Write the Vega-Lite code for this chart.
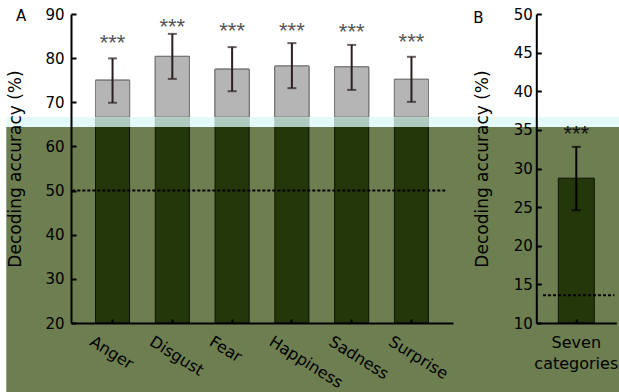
{
  "$schema": "https://vega.github.io/schema/vega-lite/v6.json",
  "padding": 0,
  "autosize": {"type": "pad"},
  "background": "#ffffff",
  "bounds": "flush",
  "spacing": 83.3,
  "config": {
    "view": {"stroke": null},
    "axis": {
      "grid": false,
      "domainColor": "#000000", "domainWidth": 2,
      "tickColor": "#000000", "tickWidth": 2,
      "labelColor": "#000000", "labelFont": "DejaVu Sans",
      "titleFont": "DejaVu Sans", "titleFontWeight": "normal", "titleColor": "#000000"
    }
  },
  "hconcat": [
    {
      "width": 382,
      "height": 309,
      "title": {"text": "A", "anchor": "start", "frame": "group", "dx": -55, "offset": -35.5, "baseline": "alphabetic", "fontSize": 15, "font": "DejaVu Sans", "fontWeight": "normal", "color": "#000000"},
      "layer": [
        {
          "data": {"values": [{}]},
          "mark": {"type": "rect", "clip": false, "fill": "#ffffff"},
          "encoding": {
            "x": {"datum": -0.18508, "type": "quantitative", "scale": {"domain": [0, 1], "nice": false, "zero": false}, "axis": null},
            "x2": {"datum": 1.435},
            "y": {"datum": 92.945, "type": "quantitative", "axis": {"zindex": 1, "values": [20, 30, 40, 50, 60, 70, 80, 90], "title": "Decoding accuracy (%)", "titleFontSize": 17, "titlePadding": 20, "labelFontSize": 15, "labelPadding": 12, "tickSize": -5}},
            "y2": {"datum": 64.401}
          }
        },
        {
          "data": {"values": [{}]},
          "mark": {"type": "rect", "clip": false, "fill": "#6d7e50"},
          "encoding": {
            "x": {"datum": -0.16937, "type": "quantitative", "scale": {"domain": [0, 1], "nice": false, "zero": false}, "axis": null},
            "x2": {"datum": 1.435},
            "y": {"datum": 64.401, "type": "quantitative", "axis": {"zindex": 1, "values": [20, 30, 40, 50, 60, 70, 80, 90], "title": "Decoding accuracy (%)", "titleFontSize": 17, "titlePadding": 20, "labelFontSize": 15, "labelPadding": 12, "tickSize": -5}},
            "y2": {"datum": 4.15}
          }
        },
        {
          "data": {"values": [
            {"emotion": "Anger", "acc": 75.0, "lo": 69.9, "hi": 79.95, "star": 83.7, "sig": "***"},
            {"emotion": "Disgust", "acc": 80.4, "lo": 75.3, "hi": 85.5, "star": 87.5, "sig": "***"},
            {"emotion": "Fear", "acc": 77.5, "lo": 72.5, "hi": 82.5, "star": 86.5, "sig": "***"},
            {"emotion": "Happiness", "acc": 78.2, "lo": 73.2, "hi": 83.4, "star": 86.5, "sig": "***"},
            {"emotion": "Sadness", "acc": 78.0, "lo": 72.8, "hi": 83.0, "star": 86.3, "sig": "***"},
            {"emotion": "Surprise", "acc": 75.2, "lo": 70.1, "hi": 80.3, "star": 83.9, "sig": "***"}
          ]},
          "encoding": {
            "x": {
              "field": "emotion", "type": "nominal", "sort": null,
              "scale": {"paddingInner": 0.43, "paddingOuter": 0.41},
              "axis": {"zindex": 1, "title": null, "labelAngle": 32, "labelAlign": "left", "labelBaseline": "top", "labelOffset": -17, "labelPadding": 14, "tickSize": -4, "labelFontSize": 16}
            }
          },
          "layer": [
            {
              "mark": {"type": "bar", "fill": "#23370b", "stroke": "#0d1405", "strokeWidth": 1},
              "encoding": {
                "y": {"field": "acc", "type": "quantitative", "scale": {"domain": [20, 90], "nice": false, "zero": false},
                  "axis": {"zindex": 1, "values": [20, 30, 40, 50, 60, 70, 80, 90], "title": "Decoding accuracy (%)", "titleFontSize": 17, "titlePadding": 20, "labelFontSize": 15, "labelPadding": 12, "tickSize": -5}},
                "y2": {"datum": 20}
              }
            },
            {
              "mark": {"type": "bar", "fill": "#b5b5b5", "stroke": "#7d7d7d", "strokeWidth": 1},
              "encoding": {
                "y": {"field": "acc", "type": "quantitative", "axis": {"zindex": 1, "values": [20, 30, 40, 50, 60, 70, 80, 90], "title": "Decoding accuracy (%)", "titleFontSize": 17, "titlePadding": 20, "labelFontSize": 15, "labelPadding": 12, "tickSize": -5}},
                "y2": {"datum": 66.667}
              }
            },
            {
              "mark": {"type": "rule", "stroke": "#2b1f1f", "strokeWidth": 2},
              "encoding": {
                "y": {"field": "lo", "type": "quantitative", "axis": {"zindex": 1, "values": [20, 30, 40, 50, 60, 70, 80, 90], "title": "Decoding accuracy (%)", "titleFontSize": 17, "titlePadding": 20, "labelFontSize": 15, "labelPadding": 12, "tickSize": -5}},
                "y2": {"field": "hi"}
              }
            },
            {
              "mark": {"type": "tick", "color": "#2b1f1f", "size": 9, "thickness": 2},
              "encoding": {"y": {"field": "lo", "type": "quantitative", "axis": {"zindex": 1, "values": [20, 30, 40, 50, 60, 70, 80, 90], "title": "Decoding accuracy (%)", "titleFontSize": 17, "titlePadding": 20, "labelFontSize": 15, "labelPadding": 12, "tickSize": -5}}}
            },
            {
              "mark": {"type": "tick", "color": "#2b1f1f", "size": 9, "thickness": 2},
              "encoding": {"y": {"field": "hi", "type": "quantitative", "axis": {"zindex": 1, "values": [20, 30, 40, 50, 60, 70, 80, 90], "title": "Decoding accuracy (%)", "titleFontSize": 17, "titlePadding": 20, "labelFontSize": 15, "labelPadding": 12, "tickSize": -5}}}
            },
            {
              "mark": {"type": "text", "font": "Liberation Sans", "fontSize": 22, "color": "#555555", "baseline": "alphabetic", "dy": 8.5},
              "encoding": {
                "y": {"field": "star", "type": "quantitative", "axis": {"zindex": 1, "values": [20, 30, 40, 50, 60, 70, 80, 90], "title": "Decoding accuracy (%)", "titleFontSize": 17, "titlePadding": 20, "labelFontSize": 15, "labelPadding": 12, "tickSize": -5}},
                "text": {"field": "sig", "type": "nominal"}
              }
            }
          ]
        },
        {
          "data": {"values": [{}]},
          "mark": {"type": "rect", "clip": false, "fill": "#dcf8f8", "opacity": 0.76},
          "encoding": {
            "x": {"datum": -0.16937, "type": "quantitative", "scale": {"domain": [0, 1], "nice": false, "zero": false}, "axis": null},
            "x2": {"datum": 1.435},
            "y": {"datum": 66.667, "type": "quantitative", "axis": {"zindex": 1, "values": [20, 30, 40, 50, 60, 70, 80, 90], "title": "Decoding accuracy (%)", "titleFontSize": 17, "titlePadding": 20, "labelFontSize": 15, "labelPadding": 12, "tickSize": -5}},
            "y2": {"datum": 64.401}
          }
        },
        {
          "data": {"values": [{}]},
          "mark": {"type": "rule", "stroke": "#000000", "strokeWidth": 2, "strokeDash": [3, 2], "clip": false},
          "encoding": {
            "x": {"datum": 0.0034, "type": "quantitative", "scale": {"domain": [0, 1], "nice": false, "zero": false}, "axis": null},
            "x2": {"datum": 0.985},
            "y": {"datum": 50, "type": "quantitative", "axis": {"zindex": 1, "values": [20, 30, 40, 50, 60, 70, 80, 90], "title": "Decoding accuracy (%)", "titleFontSize": 17, "titlePadding": 20, "labelFontSize": 15, "labelPadding": 12, "tickSize": -5}}
          }
        }
      ],
      "resolve": {"scale": {"x": "independent"}, "axis": {"x": "independent"}}
    },
    {
      "width": 80,
      "height": 309,
      "title": {"text": "B", "anchor": "start", "frame": "group", "dx": -63, "offset": -30.5, "baseline": "alphabetic", "fontSize": 15, "font": "DejaVu Sans", "fontWeight": "normal", "color": "#000000"},
      "layer": [
        {
          "data": {"values": [
            {"cond": "Seven categories", "acc": 28.75, "lo": 24.6, "hi": 32.8, "star": 34.6, "sig": "***"}
          ]},
          "encoding": {
            "x": {
              "field": "cond", "type": "nominal",
              "scale": {"paddingInner": 0.55, "paddingOuter": 0.275},
              "axis": {"zindex": 1, "title": null, "labelAngle": 0, "labelAlign": "center", "labelBaseline": "top", "labelExpr": "split(datum.label, ' ')", "labelLineHeight": 21, "labelPadding": 15, "tickSize": -4, "labelFontSize": 16}
            }
          },
          "layer": [
            {
              "mark": {"type": "bar", "fill": "#23370b", "stroke": "#0d1405", "strokeWidth": 1},
              "encoding": {
                "y": {"field": "acc", "type": "quantitative", "scale": {"domain": [10, 50], "nice": false, "zero": false},
                  "axis": {"zindex": 1, "values": [10, 15, 20, 25, 30, 35, 40, 45, 50], "title": "Decoding accuracy (%)", "titleFontSize": 17, "titlePadding": 22, "labelFontSize": 15, "labelPadding": 9, "tickSize": -5}},
                "y2": {"datum": 10}
              }
            },
            {
              "mark": {"type": "rule", "stroke": "#000000", "strokeWidth": 2},
              "encoding": {
                "y": {"field": "lo", "type": "quantitative", "axis": {"zindex": 1, "values": [10, 15, 20, 25, 30, 35, 40, 45, 50], "title": "Decoding accuracy (%)", "titleFontSize": 17, "titlePadding": 22, "labelFontSize": 15, "labelPadding": 9, "tickSize": -5}},
                "y2": {"field": "hi"}
              }
            },
            {
              "mark": {"type": "tick", "color": "#000000", "size": 9, "thickness": 2},
              "encoding": {"y": {"field": "lo", "type": "quantitative", "axis": {"zindex": 1, "values": [10, 15, 20, 25, 30, 35, 40, 45, 50], "title": "Decoding accuracy (%)", "titleFontSize": 17, "titlePadding": 22, "labelFontSize": 15, "labelPadding": 9, "tickSize": -5}}}
            },
            {
              "mark": {"type": "tick", "color": "#000000", "size": 9, "thickness": 2},
              "encoding": {"y": {"field": "hi", "type": "quantitative", "axis": {"zindex": 1, "values": [10, 15, 20, 25, 30, 35, 40, 45, 50], "title": "Decoding accuracy (%)", "titleFontSize": 17, "titlePadding": 22, "labelFontSize": 15, "labelPadding": 9, "tickSize": -5}}}
            },
            {
              "mark": {"type": "text", "font": "Liberation Sans", "fontSize": 22, "color": "#111111", "baseline": "alphabetic", "dy": 8.5},
              "encoding": {
                "y": {"field": "star", "type": "quantitative", "axis": {"zindex": 1, "values": [10, 15, 20, 25, 30, 35, 40, 45, 50], "title": "Decoding accuracy (%)", "titleFontSize": 17, "titlePadding": 22, "labelFontSize": 15, "labelPadding": 9, "tickSize": -5}},
                "text": {"field": "sig", "type": "nominal"}
              }
            }
          ]
        },
        {
          "data": {"values": [{}]},
          "mark": {"type": "rule", "stroke": "#000000", "strokeWidth": 2, "strokeDash": [3, 2], "clip": false},
          "encoding": {
            "x": {"datum": 0.084, "type": "quantitative", "scale": {"domain": [0, 1], "nice": false, "zero": false}, "axis": null},
            "x2": {"datum": 0.975},
            "y": {"datum": 13.6, "type": "quantitative", "axis": {"zindex": 1, "values": [10, 15, 20, 25, 30, 35, 40, 45, 50], "title": "Decoding accuracy (%)", "titleFontSize": 17, "titlePadding": 22, "labelFontSize": 15, "labelPadding": 9, "tickSize": -5}}
          }
        }
      ],
      "resolve": {"scale": {"x": "independent"}, "axis": {"x": "independent"}}
    }
  ]
}
